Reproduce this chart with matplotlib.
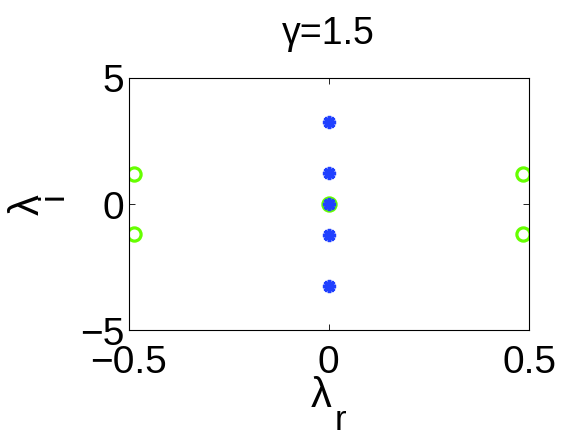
import matplotlib
matplotlib.use("Agg")
import matplotlib.pyplot as plt
import numpy as np

plt.rcParams['font.family'] = ['Liberation Sans', 'DejaVu Sans']

# eigenvalues
blue_re = [0, 0, 0, 0, 0]
blue_im = [3.23, 1.23, 0.0, -1.24, -3.27]
green_re = [-0.487, -0.487, 0.0, 0.486, 0.486]
green_im = [1.17, -1.18, 0.0, 1.17, -1.18]

title = "γ=1.5"
x_ticks = [-0.5, 0, 0.5]
x_labels = ['\u22120.5', '0', '0.5']
y_ticks = [-5, 0, 5]
y_labels = ['\u22125', '0', '5']

W, H = 584, 439
fig = plt.figure(figsize=(W / 100, H / 100), dpi=100)
ax = fig.add_axes([128.5 / W, 1 - 331 / H, 400.5 / W, 252.5 / H])

ax.plot(green_re, green_im, 'o', ls='none', mfc='none', mec='#66ff00',
        ms=9.5, mew=2.3)
ax.plot(blue_re, blue_im, marker=(8, 2, 0), ls='none', color='#2040ff',
        mec='#2040ff', ms=9.5, mew=2.5)

ax.set_xlim(-0.5, 0.5)
ax.set_ylim(-5, 5)
ax.set_xticks(x_ticks)
ax.set_xticklabels(x_labels)
ax.set_yticks(y_ticks)
ax.set_yticklabels(y_labels)
ax.tick_params(direction='in', length=4, width=0.6, labelsize=28,
               top=True, right=True)
ax.tick_params(axis='x', pad=10)
ax.tick_params(axis='y', pad=3)
for s in ax.spines.values():
    s.set_linewidth(0.8)

ax.set_title(title, fontsize=27, pad=25)

# axis labels with big, low subscripts (placed in pixels from top-left)
def px(x, y):
    return x / W, 1 - y / H

fig.text(*px(321, 396), 'λ', fontsize=30, ha='center', va='center')
fig.text(*px(340, 421), 'r', fontsize=25, ha='center', va='center')
fig.text(*px(28, 205), 'λ', fontsize=30, ha='center', va='center',
         rotation=90)
fig.text(*px(53, 196), 'i', fontsize=25, ha='center', va='center',
         rotation=90)

fig.savefig("out.png", dpi=100)
